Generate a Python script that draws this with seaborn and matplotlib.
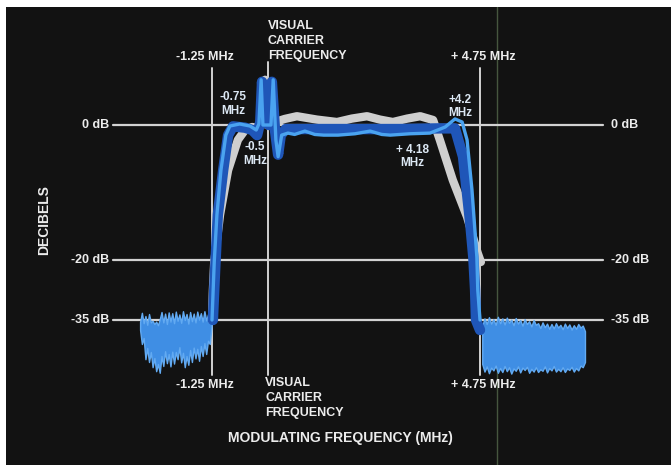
import numpy as np
import pandas as pd
import matplotlib
matplotlib.use("Agg")
import matplotlib.pyplot as plt
import seaborn as sns

# ---- data (MHz, dB) ----
gray_f = [-1.25, -1.23, -1.20, -1.07, -0.89, -0.67, -0.51, -0.35, -0.22, -0.13, -0.06, -0.02,
          0.16, 0.38, 0.65, 1.10, 1.55, 1.88, 2.22, 2.51, 2.80, 3.12, 3.41, 3.70, 3.85,
          4.14, 4.46, 4.70, 4.77]
gray_db = [-35, -27.5, -20.5, -13.3, -6.7, -2.2, -0.74, -0.3, -0.44, 0.7, 6.7, 0.0,
           0.44, 0.9, 1.3, 0.8, 0.44, 0.95, 1.3, 0.8, 0.44, 0.95, 1.3, 0.74, -2.2,
           -8.15, -13.6, -19.0, -20.5]

dark_f = [-1.23, -1.18, -1.12, -1.00, -0.89, -0.78, -0.51, -0.35, -0.24, -0.17, -0.13, -0.08,
          0.02, 0.09, 0.16, 0.23, 0.29, 0.40, 0.72, 1.62, 2.96, 3.85, 4.19, 4.37, 4.53,
          4.60, 4.64, 4.66, 4.75]
dark_db = [-35, -22.5, -13.3, -6.7, -1.5, -0.2, -0.4, -0.74, -1.5, 0.44, 6.4, 0.7,
           0.0, 6.4, -0.74, -4.4, -1.5, -0.6, -0.6, -0.6, -0.6, -0.5, -0.5, -4.7, -14.5,
           -19.6, -27.5, -35, -37.5]

light_f = [-1.25, -1.20, -1.14, -1.05, -0.94, -0.85, -0.63, -0.40, -0.26, -0.20, -0.15, -0.11,
           0.07, 0.12, 0.18, 0.23, 0.31, 0.45, 0.60, 0.83, 1.05, 1.25, 1.57, 1.95, 2.29, 2.55,
           2.74, 3.18, 3.63, 3.97, 4.19, 4.35, 4.46, 4.57, 4.68, 4.70, 4.75]
light_db = [-35, -20.5, -13.3, -6.7, -1.5, -0.15, 0.15, -0.15, -0.74, 0.15, 6.7, 0.0,
            0.0, 6.7, -2.2, -4.7, -1.5, -1.2, -1.4, -0.9, -1.4, -1.5, -1.5, -1.3, -0.9, -1.4,
            -1.5, -1.3, -1.2, -0.3, 0.9, 0.44, -2.2, -9.6, -19.6, -27.5, -35]

noise_l_f = [-2.86, -2.82, -2.78, -2.74, -2.70, -2.66, -2.62, -2.58, -2.54, -2.50, -2.46,
             -2.42, -2.38, -2.34, -2.30, -2.26, -2.22, -2.18, -2.14, -2.10, -2.06, -2.02,
             -1.98, -1.94, -1.90, -1.86, -1.82, -1.78, -1.74, -1.70, -1.66, -1.62, -1.58,
             -1.54, -1.50, -1.46, -1.42, -1.38, -1.34, -1.30, -1.26]
noise_l_top = [-35.5, -33.2, -35.8, -34.0, -36.2, -33.5, -35.6, -35.2, -36.0, -35.4, -36.3,
               -34.8, -33.0, -35.6, -33.4, -36.0, -33.1, -35.4, -33.3, -35.8, -32.9, -35.2,
               -33.6, -35.7, -32.8, -35.0, -33.5, -35.9, -33.0, -35.3, -33.4, -35.6, -32.9,
               -34.9, -33.3, -35.4, -32.8, -35.1, -33.6, -34.6, -34.0]
noise_l_bot = [-37.5, -41.0, -39.5, -44.8, -42.0, -45.5, -43.0, -46.8, -44.5, -47.8, -46.0,
               -48.2, -44.0, -46.5, -42.8, -45.8, -43.5, -46.6, -42.9, -45.9, -43.0, -44.8,
               -41.8, -45.6, -43.2, -46.8, -44.0, -46.2, -42.5, -45.5, -41.9, -44.6, -42.2,
               -45.2, -41.5, -44.0, -40.8, -43.5, -40.2, -41.0, -36.5]

noise_r_f = [4.80, 4.85, 4.90, 4.95, 5.00, 5.05, 5.10, 5.15, 5.20, 5.25, 5.30, 5.35, 5.40,
             5.45, 5.50, 5.55, 5.60, 5.65, 5.70, 5.75, 5.80, 5.85, 5.90, 5.95, 6.00, 6.05,
             6.10, 6.15, 6.20, 6.25, 6.30, 6.35, 6.40, 6.45, 6.50, 6.55, 6.60, 6.65, 6.70,
             6.75, 6.80, 6.85, 6.90, 6.95, 7.00, 7.05, 7.10]
noise_r_top = [-36.5, -34.6, -36.0, -34.3, -35.9, -34.8, -36.2, -34.2, -35.8, -34.6, -36.1,
               -34.4, -35.7, -34.9, -36.3, -34.5, -35.9, -35.0, -36.4, -34.8, -36.0, -35.3,
               -36.6, -35.0, -36.2, -35.8, -37.0, -35.6, -36.8, -35.9, -37.2, -36.0, -37.1,
               -35.8, -36.9, -36.2, -37.3, -35.9, -37.0, -36.1, -37.4, -36.3, -37.2, -36.0,
               -36.9, -36.4, -37.8]
noise_r_bot = [-46.0, -47.9, -46.6, -48.3, -46.9, -47.6, -46.4, -48.2, -47.0, -48.0, -46.5,
               -47.8, -46.8, -48.4, -47.1, -47.7, -46.6, -48.1, -46.9, -47.5, -46.7, -48.2,
               -47.2, -47.9, -46.8, -48.0, -47.3, -47.7, -46.6, -48.1, -47.0, -47.6, -46.5,
               -47.9, -47.2, -47.8, -46.8, -48.0, -47.1, -47.5, -46.7, -47.9, -47.0, -47.6,
               -46.4, -46.8, -45.5]

ref_db = [0, -20, -35]
ref_labels = ["0 dB", "-20 dB", "-35 dB"]
marker_f = [-1.25, 0.0, 4.75]

# ---- piecewise scale of the original drawing ----
P_DB = [-90, -35, -20, 0, 30]
P_T = [-540, -320, -260, -125, 77.5]


def fwd(y):
    return np.interp(y, P_DB, P_T)


def inv(t):
    return np.interp(t, P_T, P_DB)


sns.set_theme(style="dark")
plt.rcParams['font.family'] = ['Liberation Sans Narrow', 'Liberation Sans', 'DejaVu Sans']

fig = plt.figure(figsize=(6.71, 4.65), dpi=100)
fig.patch.set_facecolor("white")
ax = fig.add_axes([6 / 671, 0, 665 / 671, 458 / 465])
ax.set_facecolor("#121212")
ax.set_yscale("function", functions=(fwd, inv))
ax.set_xlim(-5.862, 9.026)
ax.set_ylim(float(inv(-465)), float(inv(-7)))
for s in ax.spines.values():
    s.set_visible(False)
ax.set_xticks([])
ax.set_yticks([])

gc = "#d2d2d2"
# faint fold line from the scan
ax.axvline(5.13, color="#46563f", lw=1.0, zorder=1)
for d in ref_db:
    ax.plot([-3.47, 7.50], [d, d], color=gc, lw=1.6, zorder=2)
for f in marker_f:
    top = 9.3 if f == 0 else 8.4
    ax.plot([f, f], [-48.75, top], color=gc, lw=1.4, zorder=2)

# noise floors
ax.fill_between(noise_l_f, noise_l_bot, noise_l_top, color="#3f8ee4", lw=1.0,
                edgecolor="#62aaf2", zorder=3)
ax.fill_between(noise_r_f, noise_r_bot, noise_r_top, color="#3f8ee4", lw=1.0,
                edgecolor="#62aaf2", zorder=3)

gray = pd.DataFrame({"f": gray_f, "db": gray_db})
dark = pd.DataFrame({"f": dark_f, "db": dark_db})
light = pd.DataFrame({"f": light_f, "db": light_db})
sns.lineplot(data=gray, x="f", y="db", sort=False, color="#cfcfcf", lw=6, ax=ax, zorder=4)
sns.lineplot(data=dark, x="f", y="db", sort=False, color="#1f56b8", lw=7.5, ax=ax, zorder=5)
sns.lineplot(data=light, x="f", y="db", sort=False, color="#4aa3f0", lw=2.4, ax=ax, zorder=6)
ax.set_xlabel("")
ax.set_ylabel("")

tc = "#ececec"
kw = dict(color=tc, fontsize=9, fontweight="bold", zorder=8)
for d, lab in zip(ref_db, ref_labels):
    ax.text(-3.55, d, lab, ha="right", va="center", **kw)
    ax.text(7.68, d, lab, ha="left", va="center", **kw)

ax.text(-1.41, 10.1, "-1.25 MHz", ha="center", va="center", **kw)
ax.text(4.82, 10.1, "+ 4.75 MHz", ha="center", va="center", **kw)
ax.text(0.0, 9.4, "VISUAL\nCARRIER\nFREQUENCY", ha="left", va="bottom", linespacing=1.3, **kw)
ax.text(-1.41, -51.3, "-1.25 MHz", ha="center", va="center", **kw)
ax.text(4.82, -51.3, "+ 4.75 MHz", ha="center", va="center", **kw)
ax.text(-0.06, -49.3, "VISUAL\nCARRIER\nFREQUENCY", ha="left", va="top", linespacing=1.3, **kw)

ax.text(1.62, -64.5, "MODULATING FREQUENCY (MHz)", ha="center", va="center",
        color=tc, fontsize=10, fontweight="bold")
ax.text(-5.0, -14.1, "DECIBELS", ha="center", va="center", rotation=90,
        color=tc, fontsize=10, fontweight="bold")

akw = dict(color="#dce8f4", fontsize=8.5, fontweight="bold", ha="center", va="center",
           linespacing=1.15, zorder=8)
ax.text(-0.78, 3.1, "-0.75\nMHz", **akw)
ax.text(-0.29, -4.3, "-0.5\nMHz", **akw)
ax.text(3.23, -4.7, "+ 4.18\nMHz", **akw)
ax.text(4.31, 2.7, "+4.2\nMHz", **akw)

fig.savefig("out.png", dpi=100, facecolor=fig.get_facecolor())
